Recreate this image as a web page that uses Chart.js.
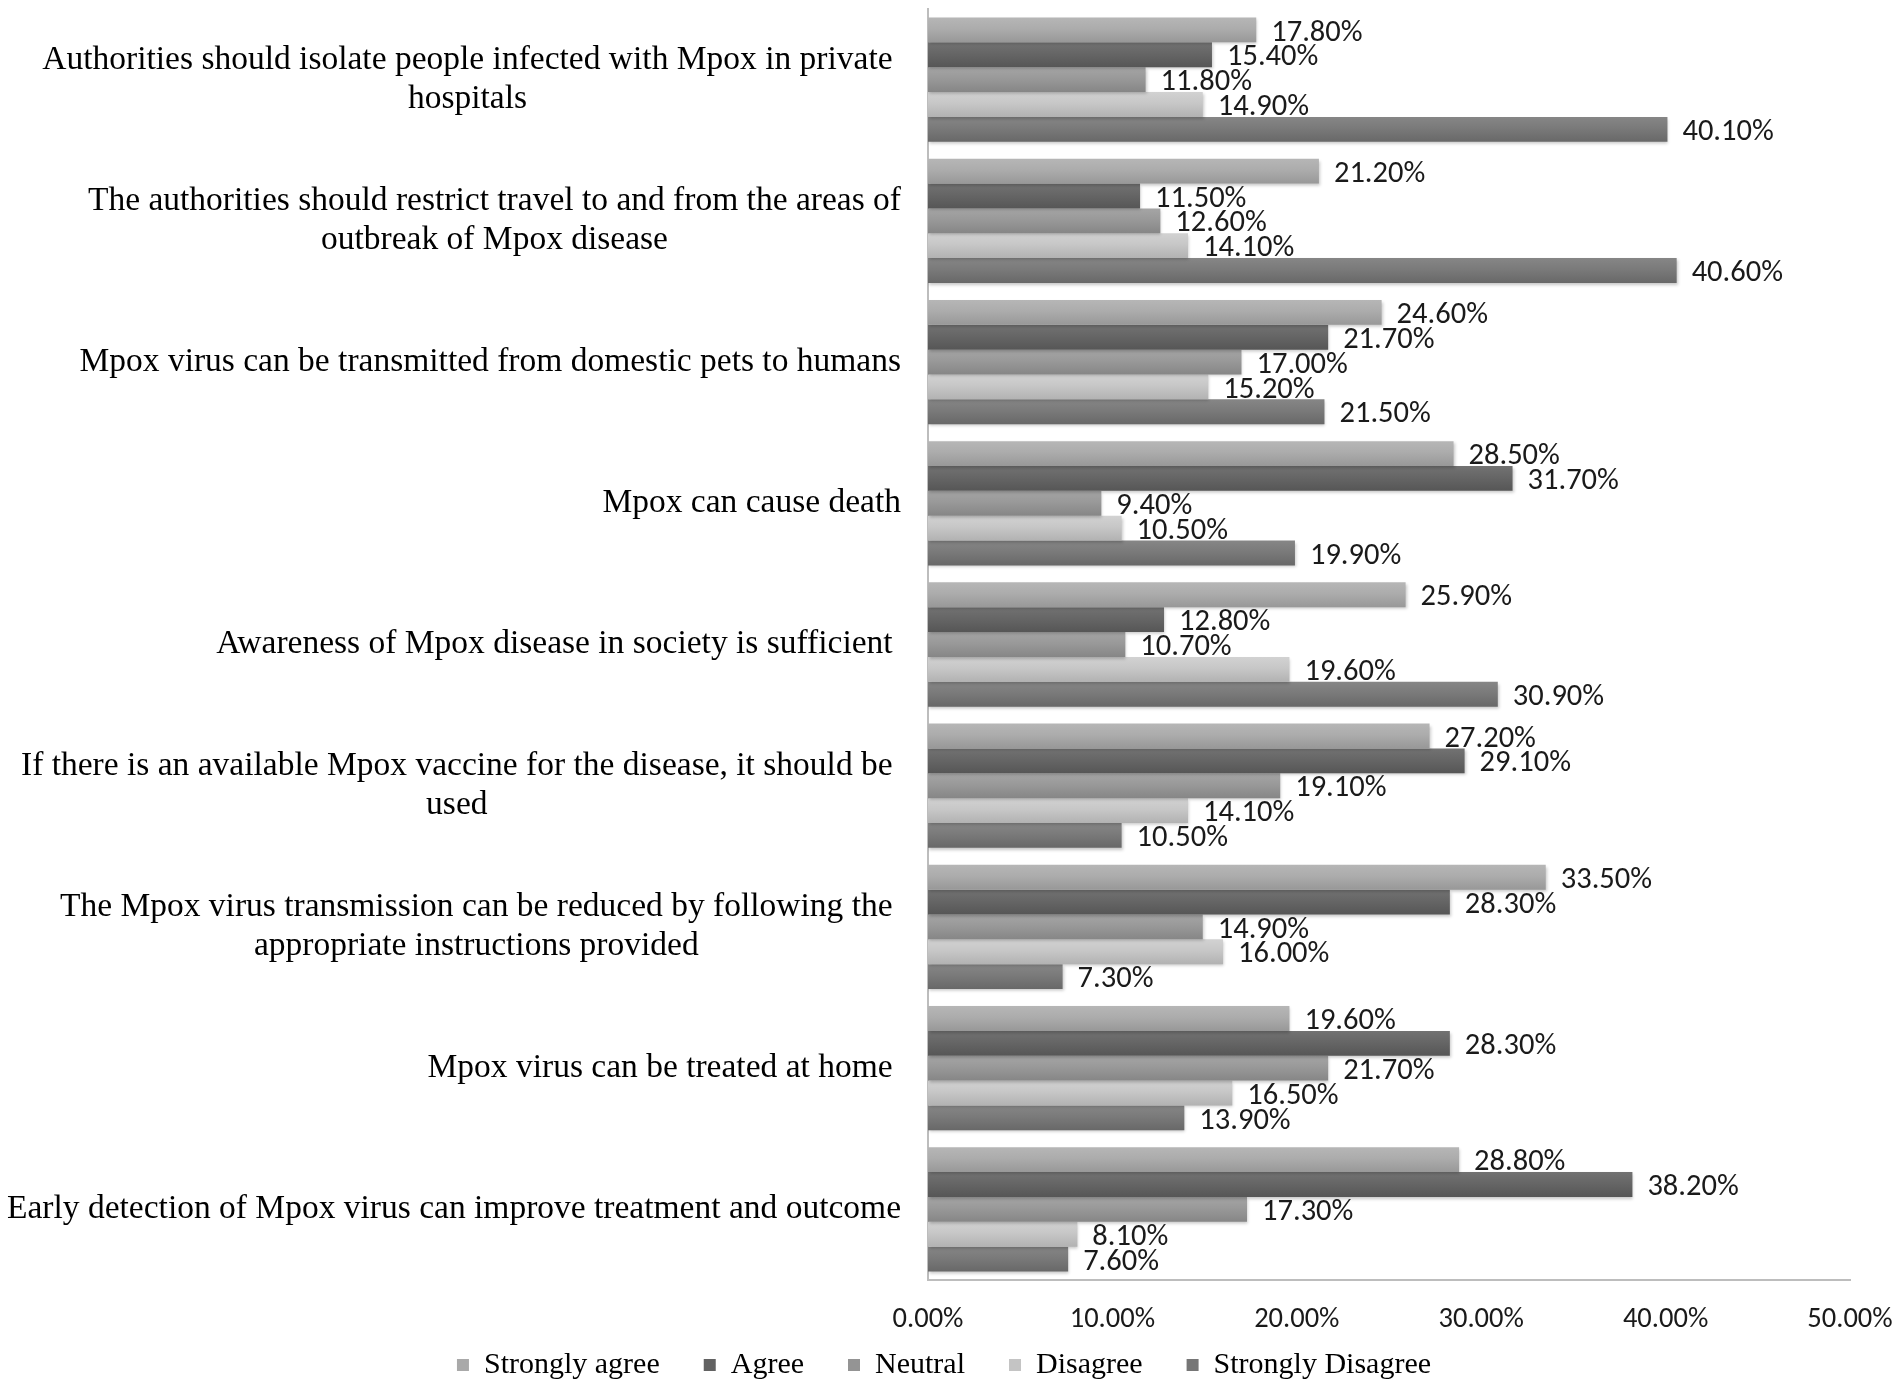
<!DOCTYPE html>
<html>
<head>
<meta charset="utf-8">
<script src="https://cdn.jsdelivr.net/npm/chart.js@4"></script>
<style>
  html, body { margin: 0; padding: 0; background: #ffffff; }
  #wrap { width: 1902px; height: 1390px; position: relative; }
</style>
</head>
<body>
<div id="wrap"><canvas id="c"></canvas></div>
<script>
// ---- data ----
const categories = [
  ["Authorities should isolate people infected with Mpox in private ", "hospitals"],
  ["The authorities should restrict travel to and from the areas of", "outbreak of Mpox disease"],
  ["Mpox virus can be transmitted from domestic pets to humans"],
  ["Mpox can cause death"],
  ["Awareness of Mpox disease in society is sufficient "],
  ["If there is an available Mpox vaccine for the disease, it should be ", "used"],
  ["The Mpox virus transmission can be reduced by following the ", "appropriate instructions provided"],
  ["Mpox virus can be treated at home "],
  ["Early detection of Mpox virus can improve treatment and outcome"]
];
const seriesNames = ["Strongly agree", "Agree", "Neutral", "Disagree", "Strongly Disagree"];
const stronglyAgree    = [17.8, 21.2, 24.6, 28.5, 25.9, 27.2, 33.5, 19.6, 28.8];
const agree            = [15.4, 11.5, 21.7, 31.7, 12.8, 29.1, 28.3, 28.3, 38.2];
const neutral          = [11.8, 12.6, 17.0,  9.4, 10.7, 19.1, 14.9, 21.7, 17.3];
const disagree         = [14.9, 14.1, 15.2, 10.5, 19.6, 14.1, 16.0, 16.5,  8.1];
const stronglyDisagree = [40.1, 40.6, 21.5, 19.9, 30.9, 10.5,  7.3, 13.9,  7.6];
const xTicks = [0, 10, 20, 30, 40, 50];

// ---- styles ----
const baseColors = ["#a9a9a9", "#626262", "#949494", "#c4c4c4", "#767676"];
const gradStops = [
  ["#b6b6b6", "#acacac", "#989898"],
  ["#727272", "#666666", "#565656"],
  ["#a5a5a5", "#999999", "#868686"],
  ["#d2d2d2", "#c7c7c7", "#b2b2b2"],
  ["#868686", "#7a7a7a", "#686868"]
];
const allSeries = [stronglyAgree, agree, neutral, disagree, stronglyDisagree];

const serif = "'Liberation Serif', 'Times New Roman', serif";
const sans = "Carlito, Lato, 'Liberation Sans', sans-serif";

const gradientPlugin = {
  id: 'gradBars',
  beforeDatasetDraw(chart, args) {
    const ctx = chart.ctx;
    const meta = args.meta;
    const stops = gradStops[args.index];
    meta.data.forEach(el => {
      const top = el.y - el.height / 2, bot = el.y + el.height / 2;
      const g = ctx.createLinearGradient(0, top, 0, bot);
      g.addColorStop(0, stops[0]);
      g.addColorStop(0.45, stops[1]);
      g.addColorStop(1, stops[2]);
      el.options.backgroundColor = g;
    });
    ctx.save();
    ctx.shadowColor = 'rgba(0,0,0,0.22)';
    ctx.shadowBlur = 3;
    ctx.shadowOffsetX = 1;
    ctx.shadowOffsetY = 2;
  },
  afterDatasetDraw(chart) {
    chart.ctx.restore();
  }
};

const valueLabelPlugin = {
  id: 'valueLabels',
  afterDatasetsDraw(chart) {
    const ctx = chart.ctx;
    ctx.save();
    ctx.font = "30.5px " + sans;
    ctx.fillStyle = "#1a1a1a";
    ctx.textAlign = 'left';
    ctx.textBaseline = 'middle';
    chart.data.datasets.forEach((ds, di) => {
      const meta = chart.getDatasetMeta(di);
      meta.data.forEach((el, i) => {
        ctx.fillText(ds.data[i].toFixed(2) + '%', el.x + 15, el.y + 3);
      });
    });
    ctx.restore();
  }
};

const categoryLabelPlugin = {
  id: 'catLabels',
  afterDraw(chart) {
    const ctx = chart.ctx;
    const yScale = chart.scales.y;
    const anchor = chart.chartArea.left - 27;
    const lineH = 39;
    ctx.save();
    ctx.font = "33.5px " + serif;
    ctx.fillStyle = "#000000";
    ctx.textAlign = 'center';
    ctx.textBaseline = 'middle';
    const spaceW = ctx.measureText(' ').width;
    categories.forEach((lines, i) => {
      const cy = yScale.getPixelForValue(i);
      const widths = lines.map(l => ctx.measureText(l.trimEnd()).width);
      const W = Math.max(...widths);
      const pad = lines[0].endsWith(' ') ? spaceW : 0;
      const cx = anchor - pad - W / 2;
      const n = lines.length;
      lines.forEach((l, k) => {
        ctx.fillText(l.trimEnd(), cx, cy + (k - (n - 1) / 2) * lineH);
      });
    });
    ctx.restore();
  }
};

const chart = new Chart(document.getElementById('c'), {
  type: 'bar',
  data: {
    labels: categories.map(c => c.join('')),
    datasets: allSeries.map((d, i) => ({
      label: seriesNames[i],
      data: d,
      backgroundColor: (c) => baseColors[c.datasetIndex],
      borderWidth: 0,
      barPercentage: 1.0,
      categoryPercentage: 0.88
    }))
  },
  options: {
    indexAxis: 'y',
    responsive: true,
    maintainAspectRatio: false,
    devicePixelRatio: 1,
    animation: false,
    layout: { padding: { left: 38, right: 52, top: 9, bottom: 0 } },
    scales: {
      x: {
        min: 0, max: 50,
        afterBuildTicks: (s) => { s.ticks = xTicks.map(v => ({ value: v })); },
        afterFit: (s) => { s.height = 26; s.paddingLeft = 0; s.paddingRight = 0; },
        grid: { display: false, drawTicks: false },
        border: { display: true, color: '#bdbdbd', width: 2 },
        ticks: {
          mirror: true,
          padding: -57,
          color: '#1a1a1a',
          font: { family: sans, size: 28.5 },
          callback: (v) => Number(v).toFixed(2) + '%'
        }
      },
      y: {
        grid: { display: false, drawTicks: false },
        border: { display: true, color: '#bdbdbd', width: 2 },
        ticks: { display: false },
        afterFit: (s) => { s.width = 890; }
      }
    },
    plugins: {
      tooltip: { enabled: false },
      legend: {
        position: 'bottom',
        labels: {
          color: '#1a1a1a',
          font: { family: serif, size: 30 },
          boxWidth: 12,
          boxHeight: 12,
          padding: 44,
          generateLabels: (ch) => seriesNames.map((n, i) => ({
            text: n,
            fillStyle: baseColors[i],
            strokeStyle: baseColors[i],
            lineWidth: 0,
            hidden: false,
            datasetIndex: i
          }))
        }
      }
    }
  },
  plugins: [gradientPlugin, valueLabelPlugin, categoryLabelPlugin]
});
</script>
</body>
</html>
